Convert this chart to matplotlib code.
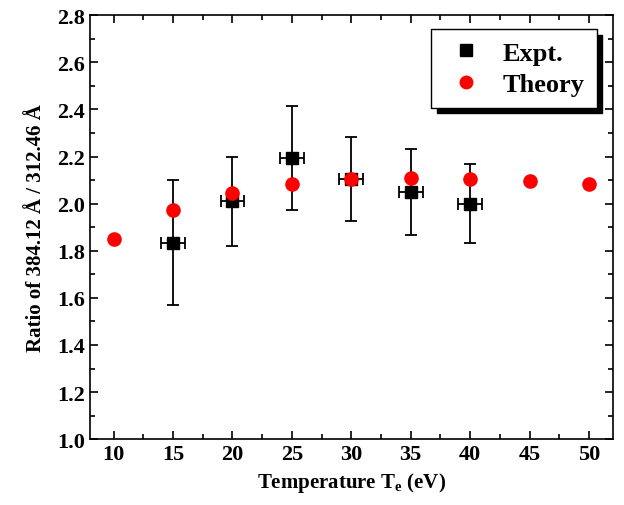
import numpy as np
import matplotlib
matplotlib.use("Agg")
from matplotlib import pyplot as plt
from matplotlib.ticker import MultipleLocator
from matplotlib.lines import Line2D

# data
theory_T = [10, 15, 20, 25, 30, 35, 40, 45, 50]
theory_ratio = [1.85, 1.975, 2.045, 2.085, 2.105, 2.11, 2.105, 2.097, 2.085]

expt_T = [15, 20, 25, 30, 35, 40]
expt_ratio = [1.835, 2.01, 2.195, 2.105, 2.05, 2.0]
expt_yerr = [0.265, 0.19, 0.22, 0.18, 0.183, 0.167]
expt_xerr = [1, 1, 1, 1, 1, 1]

plt.rcParams['font.family'] = ['Liberation Serif', 'DejaVu Serif']
plt.rcParams['font.weight'] = 'bold'
plt.rcParams['mathtext.fontset'] = 'custom'
plt.rcParams['mathtext.rm'] = 'Liberation Serif:bold'
plt.rcParams['mathtext.it'] = 'Liberation Serif:bold'
plt.rcParams['mathtext.bf'] = 'Liberation Serif:bold'

fig = plt.figure(figsize=(6.24, 5.06), dpi=100)
ax = fig.add_axes([0.144, 0.130, 0.838, 0.838])

ax.errorbar(expt_T, expt_ratio, yerr=expt_yerr, xerr=expt_xerr, fmt='s', color='black',
            ms=8.5, elinewidth=1.3, capsize=4, capthick=1.3, zorder=2)
ax.plot(theory_T, theory_ratio, 'o', color='red', ms=9.5, mec='red', zorder=3)

ax.set_xlim(8, 52)
ax.set_ylim(1.0, 2.8)
ax.xaxis.set_major_locator(MultipleLocator(5))
ax.xaxis.set_minor_locator(MultipleLocator(2.5))
ax.yaxis.set_major_locator(MultipleLocator(0.2))
ax.yaxis.set_minor_locator(MultipleLocator(0.1))
ax.yaxis.set_major_formatter(matplotlib.ticker.FormatStrFormatter('%.1f'))
ax.tick_params(which='both', direction='in', top=True, right=True, width=1.2)
ax.tick_params(which='major', length=6, labelsize=16)
ax.tick_params(which='minor', length=3.5)
for s in ax.spines.values():
    s.set_linewidth(1.2)

ax.set_xlabel(r'Temperature T$_\mathrm{e}$ (eV)', fontsize=15, fontweight='bold', labelpad=4)
ax.set_ylabel('Ratio of 384.12 Å / 312.46 Å', fontsize=15, fontweight='bold', labelpad=8)

handles = [Line2D([], [], ls='', marker='s', color='black', ms=8),
           Line2D([], [], ls='', marker='o', color='red', ms=9)]
leg = ax.legend(handles, ['Expt.', 'Theory'], loc='upper right',
                bbox_to_anchor=(0.969, 0.967), borderaxespad=0, fancybox=False,
                edgecolor='black', framealpha=1, fontsize=19,
                shadow={'color': 'black', 'alpha': 1, 'ox': 4, 'oy': -4},
                handletextpad=0.55, borderpad=0.45, labelspacing=0.3, handlelength=1.7)
leg.get_frame().set_linewidth(1.0)

fig.savefig('out.png', dpi=100)
